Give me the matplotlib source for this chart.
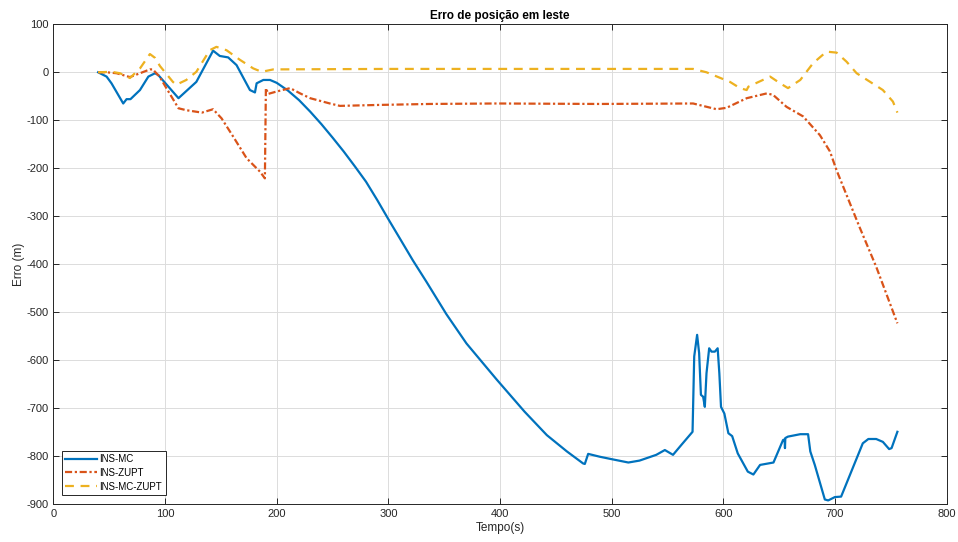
import matplotlib
matplotlib.use("Agg")
import matplotlib.pyplot as plt

plt.rcParams['font.family'] = ['Liberation Sans', 'DejaVu Sans']
plt.rcParams['axes.unicode_minus'] = False

# INS-MC east position error
t_mc = [40, 47.6, 52, 62.5, 65.5, 69, 77.5, 85, 91, 94, 112, 128, 143, 149, 156.5, 164,
        176, 180.5, 182, 188, 194, 200, 210, 220, 230, 240, 250, 260, 270, 280, 290, 300,
        310, 322, 334, 352, 370, 397, 422, 442, 460, 474.5, 476, 479, 489.5, 500, 515, 525,
        540, 547.7, 555, 562.6, 572.5, 574, 576.6, 578.4, 580, 582, 583.5, 585, 587.4,
        589.5, 592.5, 595, 596.5, 598, 601, 604.6, 608, 613, 622, 627, 633, 645, 653.6,
        655, 655.3, 655.6, 658, 669, 676, 678, 682, 691, 694, 700, 705.6, 710.5, 725, 730,
        737, 743, 748.6, 750.8, 756]
e_mc = [0, -9, -23, -65, -56, -56, -37, -9, -2, -6, -54, -20, 45, 34, 31, 15,
        -37, -42, -23, -16, -16, -22, -38, -58, -82, -108, -136, -165, -196, -228, -266, -306,
        -345, -392, -436, -504, -565, -640, -707, -756, -790, -815, -816, -795, -801, -806, -813, -809,
        -797, -787, -797, -776, -749, -592, -547, -585, -672, -676, -697, -627, -575,
        -582, -582, -575, -627, -697, -711, -752, -758, -794, -832, -838, -818, -813, -766,
        -765, -783, -762, -759, -754, -754, -790, -818, -890, -892, -885, -884, -856, -773, -764,
        -764, -770, -785, -783, -749]

# INS-ZUPT east position error
t_zupt = [40, 47.6, 56.6, 68.5, 77.5, 86.4, 89, 95, 104, 112, 119, 133, 143, 150.6, 161,
          173, 185, 189.4, 190.3, 192.4, 200, 212, 221, 230, 247.6, 256.6, 292, 337, 397,
          489.5, 573, 594, 603, 621, 639, 644.6, 656.7, 671.6, 686.6, 695.6, 701.5, 722,
          737, 756]
e_zupt = [0, 0, -2, -10, -2, 6, 6, -9, -44, -75, -79, -84, -77, -96, -134,
          -179, -207, -221, -33, -45, -40, -33, -44, -54, -65, -70, -68, -66, -65,
          -66, -65, -77, -74, -54, -44, -47, -72, -92, -131, -165, -204, -322,
          -405, -523]

# INS-MC-ZUPT east position error
t_mczupt = [40, 52, 59.6, 68.5, 77.5, 86.4, 91, 95.4, 107, 110, 119, 128, 140, 146, 155,
            167, 179, 186.5, 197, 300, 450, 573, 585, 606, 615, 621, 622.5, 642, 651, 658,
            669, 680.5, 692.5, 701.5, 710.5, 719.5, 731.6, 743, 752, 756]
e_mczupt = [0, 1, -2, -12, 8, 38, 30, 13, -20, -26, -16, 1, 46, 53, 46,
            26, 8, 1, 6, 7, 7, 7, 0, -20, -33, -37, -30, -9, -23, -33,
            -16, 19, 43, 41, 22, -2, -20, -37, -61, -84]

x_ticks = [0, 100, 200, 300, 400, 500, 600, 700, 800]
y_ticks = [100, 0, -100, -200, -300, -400, -500, -600, -700, -800, -900]

fig = plt.figure(figsize=(9.58, 5.42), dpi=100)
ax = fig.add_axes([0.0558, 0.0696, 0.9322, 0.8856])

ax.plot(t_mc, e_mc, color='#0072BD', lw=1.6, ls='-', label='INS-MC')
ax.plot(t_zupt, e_zupt, color='#D95319', lw=1.6, ls=(0, (3.2, 1.2, 1.0, 1.2)), label='INS-ZUPT')
ax.plot(t_mczupt, e_mczupt, color='#EDB120', lw=1.6, ls=(0, (4, 3)), label='INS-MC-ZUPT')

ax.set_xlim(0, 800)
ax.set_ylim(-900, 100)
ax.set_xticks(x_ticks)
ax.set_yticks(y_ticks)
ax.grid(True, color='#dcdcdc', lw=0.7)
ax.set_axisbelow(True)
ax.tick_params(direction='in', top=True, right=True, labelsize=8, colors='#262626',
               length=4, width=0.7)
for s in ax.spines.values():
    s.set_color('#262626')
    s.set_linewidth(0.7)

ax.set_title('Erro de posição em leste', fontsize=8.5, fontweight='bold', pad=4)
ax.set_xlabel('Tempo(s)', fontsize=8.5, color='#262626', labelpad=2)
ax.set_ylabel('Erro (m)', fontsize=8.5, color='#262626', labelpad=1)

leg = ax.legend(loc='lower left', bbox_to_anchor=(0.0092, 0.019), borderaxespad=0,
                fontsize=7, frameon=True, fancybox=False, edgecolor='#262626',
                framealpha=1, handlelength=3.3, borderpad=0.35, labelspacing=0.4,
                handletextpad=0.25)
leg.get_frame().set_linewidth(0.7)

fig.savefig('out.png', dpi=100)
